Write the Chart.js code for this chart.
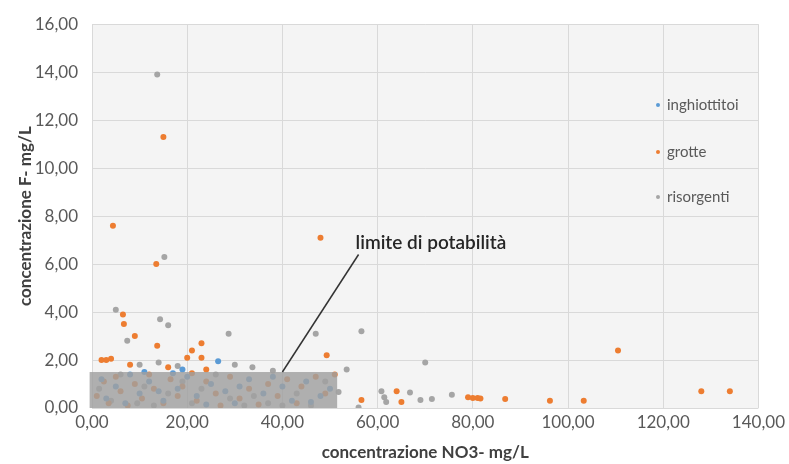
<!DOCTYPE html>
<html>
<head>
<meta charset="utf-8">
<script src="https://cdn.jsdelivr.net/npm/chart.js@4.4.1/dist/chart.umd.min.js"></script>
<style>
  html, body { margin: 0; padding: 0; background: #ffffff; }
  #wrap { width: 789px; height: 464px; }
</style>
</head>
<body>
<div id="wrap"><canvas id="grafico" width="789" height="464"></canvas></div>
<script>
// DATI - [NO3 mg/L, F mg/L]
const inghiottitoi = [
  [26.5, 1.95], [2, 1.2], [5, 0.9], [8, 1.4], [10, 0.6], [12, 1.1], [15, 0.3], [18, 0.8],
  [20, 1.3], [22, 0.5], [25, 1.0], [28, 0.7], [30, 0.2], [33, 1.2], [36, 0.6], [40, 0.9],
  [42, 0.3], [45, 1.1], [48, 0.5], [50, 0.8], [3, 0.4], [7, 0.2], [14, 0.7], [17, 1.45],
  [24, 0.15], [31, 0.9], [38, 1.3], [46, 0.25], [11, 1.5], [19, 1.6]
];
const grotte = [
  [15, 11.3], [4.4, 7.6], [48, 7.1], [13.5, 6.0], [6.5, 3.9], [6.7, 3.5], [9, 3.0], [13.7, 2.6],
  [21, 2.4], [23, 2.7], [20, 2.1], [23, 2.1], [2, 2.0], [3, 2.0], [4, 2.05], [49.3, 2.2],
  [110.5, 2.4], [56.6, 0.33], [64, 0.7], [65, 0.25], [79, 0.45], [80, 0.42], [81, 0.42],
  [81.6, 0.4], [86.8, 0.38], [96.2, 0.3], [103.3, 0.3], [128, 0.7], [134, 0.7],
  [1, 0.5], [2.5, 1.1], [3.5, 0.2], [5, 1.3], [6, 0.7], [7.5, 0.1], [9, 1.0], [10.5, 0.4],
  [12, 1.4], [13, 0.8], [15, 0.2], [16.5, 1.2], [18, 0.5], [19, 0.9], [21, 1.45], [22, 0.3],
  [24, 1.1], [26, 0.6], [27, 0.1], [29, 1.3], [31, 0.4], [33, 0.8], [35, 0.15], [37, 1.0],
  [39, 0.5], [41, 1.2], [43, 0.2], [44, 0.9], [47, 1.3], [49, 0.6], [51, 1.4], [16, 1.7],
  [24, 1.6], [8, 1.8]
];
const risorgenti = [
  [13.7, 13.9], [15.2, 6.3], [5, 4.1], [14.3, 3.7], [16, 3.45], [7.4, 2.8], [28.7, 3.1],
  [47, 3.1], [56.6, 3.2], [53.5, 1.6], [33.7, 1.7], [70, 1.9], [51.8, 0.67], [56, 0.02],
  [60.8, 0.7], [61.4, 0.45], [61.8, 0.25], [66.8, 0.65], [69, 0.33], [71.4, 0.38], [75.6, 0.55],
  [1.5, 0.8], [4, 0.3], [6, 1.4], [9.5, 0.2], [11, 0.9], [13, 0.1], [16, 0.6], [19, 1.1],
  [21, 0.2], [23, 0.8], [26, 1.4], [29, 0.4], [32, 0.1], [34, 0.5], [37, 0.2], [40, 0.1],
  [43, 0.6], [46, 0.1], [49, 1.1], [10, 1.8], [14, 1.9], [18, 1.75], [30, 1.8], [38, 1.55]
];
const xTicks = [0, 20, 40, 60, 80, 100, 120, 140];
const yTicks = [0, 2, 4, 6, 8, 10, 12, 14, 16];
// LIMITE DI POTABILITA (NO3 50, F 1,5)
const limiteX = [-0.5, 51.5];
const limiteY = [0, 1.5];
const frecciaDa = [40, 1.5];
const frecciaA = [56, 6.4];

const toXY = (arr) => arr.map((p) => ({ x: p[0], y: p[1] }));
const fmt = (v) => v.toFixed(2).replace(".", ",");

// SFONDO AREA GRAFICO
const sfondo = {
  id: "sfondo",
  beforeDraw(chart) {
    const { ctx, chartArea: a } = chart;
    ctx.save();
    ctx.fillStyle = "#f4f4f4";
    ctx.fillRect(a.left, a.top, a.right - a.left, a.bottom - a.top);
    ctx.restore();
  },
};

// RETTANGOLO + FRECCIA + LEGENDA
const limite = {
  id: "limite",
  afterDatasetsDraw(chart) {
    const { ctx, scales } = chart;
    const x = scales.x, y = scales.y;
    ctx.save();
    const x0 = x.getPixelForValue(limiteX[0]), x1 = x.getPixelForValue(limiteX[1]);
    const y0 = y.getPixelForValue(limiteY[0]), y1 = y.getPixelForValue(limiteY[1]);
    ctx.fillStyle = "rgba(160,160,160,0.82)";
    ctx.fillRect(x0, y1, x1 - x0, y0 - y1);

    ctx.strokeStyle = "#333";
    ctx.lineWidth = 1.5;
    ctx.beginPath();
    ctx.moveTo(x.getPixelForValue(frecciaDa[0]), y.getPixelForValue(frecciaDa[1]));
    ctx.lineTo(x.getPixelForValue(frecciaA[0]), y.getPixelForValue(frecciaA[1]));
    ctx.stroke();

    ctx.fillStyle = "#262626";
    ctx.font = "600 19px Lato";
    ctx.textBaseline = "middle";
    ctx.fillText("limite di potabilità", x.getPixelForValue(frecciaA[0]) - 3, y.getPixelForValue(frecciaA[1]) - 12);

    // legenda
    const ys = [105, 152, 197];
    ctx.font = "15px Lato";
    chart.data.datasets.forEach((ds, i) => {
      ctx.fillStyle = ds.backgroundColor;
      ctx.beginPath();
      ctx.arc(658, ys[i], 2, 0, Math.PI * 2);
      ctx.fill();
      ctx.fillStyle = "#595959";
      ctx.fillText(ds.label, 667, ys[i]);
    });
    ctx.restore();
  },
};

const ctx = document.getElementById("grafico").getContext("2d");
new Chart(ctx, {
  type: "scatter",
  data: {
    datasets: [
      { label: "inghiottitoi", data: toXY(inghiottitoi), backgroundColor: "#5b9bd5", borderColor: "#5b9bd5" },
      { label: "grotte", data: toXY(grotte), backgroundColor: "#ed7d31", borderColor: "#ed7d31" },
      { label: "risorgenti", data: toXY(risorgenti), backgroundColor: "#a5a5a5", borderColor: "#a5a5a5" },
    ],
  },
  options: {
    responsive: false,
    animation: false,
    layout: { padding: { top: 24, right: 26, left: 0, bottom: 0 } },
    elements: { point: { radius: 3, borderWidth: 0 } },
    plugins: {
      legend: { display: false },
      tooltip: { enabled: false },
    },
    scales: {
      x: {
        min: 0,
        max: 140,
        afterBuildTicks: (s) => { s.ticks = xTicks.map((v) => ({ value: v })); },
        afterFit: (s) => { s.height = 56; },
        grid: { color: "#d9d9d9", drawTicks: false },
        border: { display: false },
        ticks: { color: "#595959", font: { family: "Lato", size: 17 }, padding: 4, callback: (v) => fmt(v) },
        title: {
          display: true,
          text: "concentrazione NO3- mg/L",
          color: "#404040",
          font: { family: "Lato", size: 17, weight: "bold" },
          padding: { top: 0, bottom: 1 },
        },
      },
      y: {
        min: 0,
        max: 16,
        afterBuildTicks: (s) => { s.ticks = yTicks.map((v) => ({ value: v })); },
        afterFit: (s) => { s.width = 92; },
        grid: { color: "#d9d9d9", drawTicks: false },
        border: { display: false },
        ticks: { color: "#595959", font: { family: "Lato", size: 17 }, padding: 14, callback: (v) => fmt(v) },
        title: {
          display: true,
          text: "concentrazione F- mg/L",
          color: "#404040",
          font: { family: "Lato", size: 17, weight: "bold" },
          padding: { top: 15, bottom: 0 },
        },
      },
    },
  },
  plugins: [sfondo, limite],
});
</script>
</body>
</html>
